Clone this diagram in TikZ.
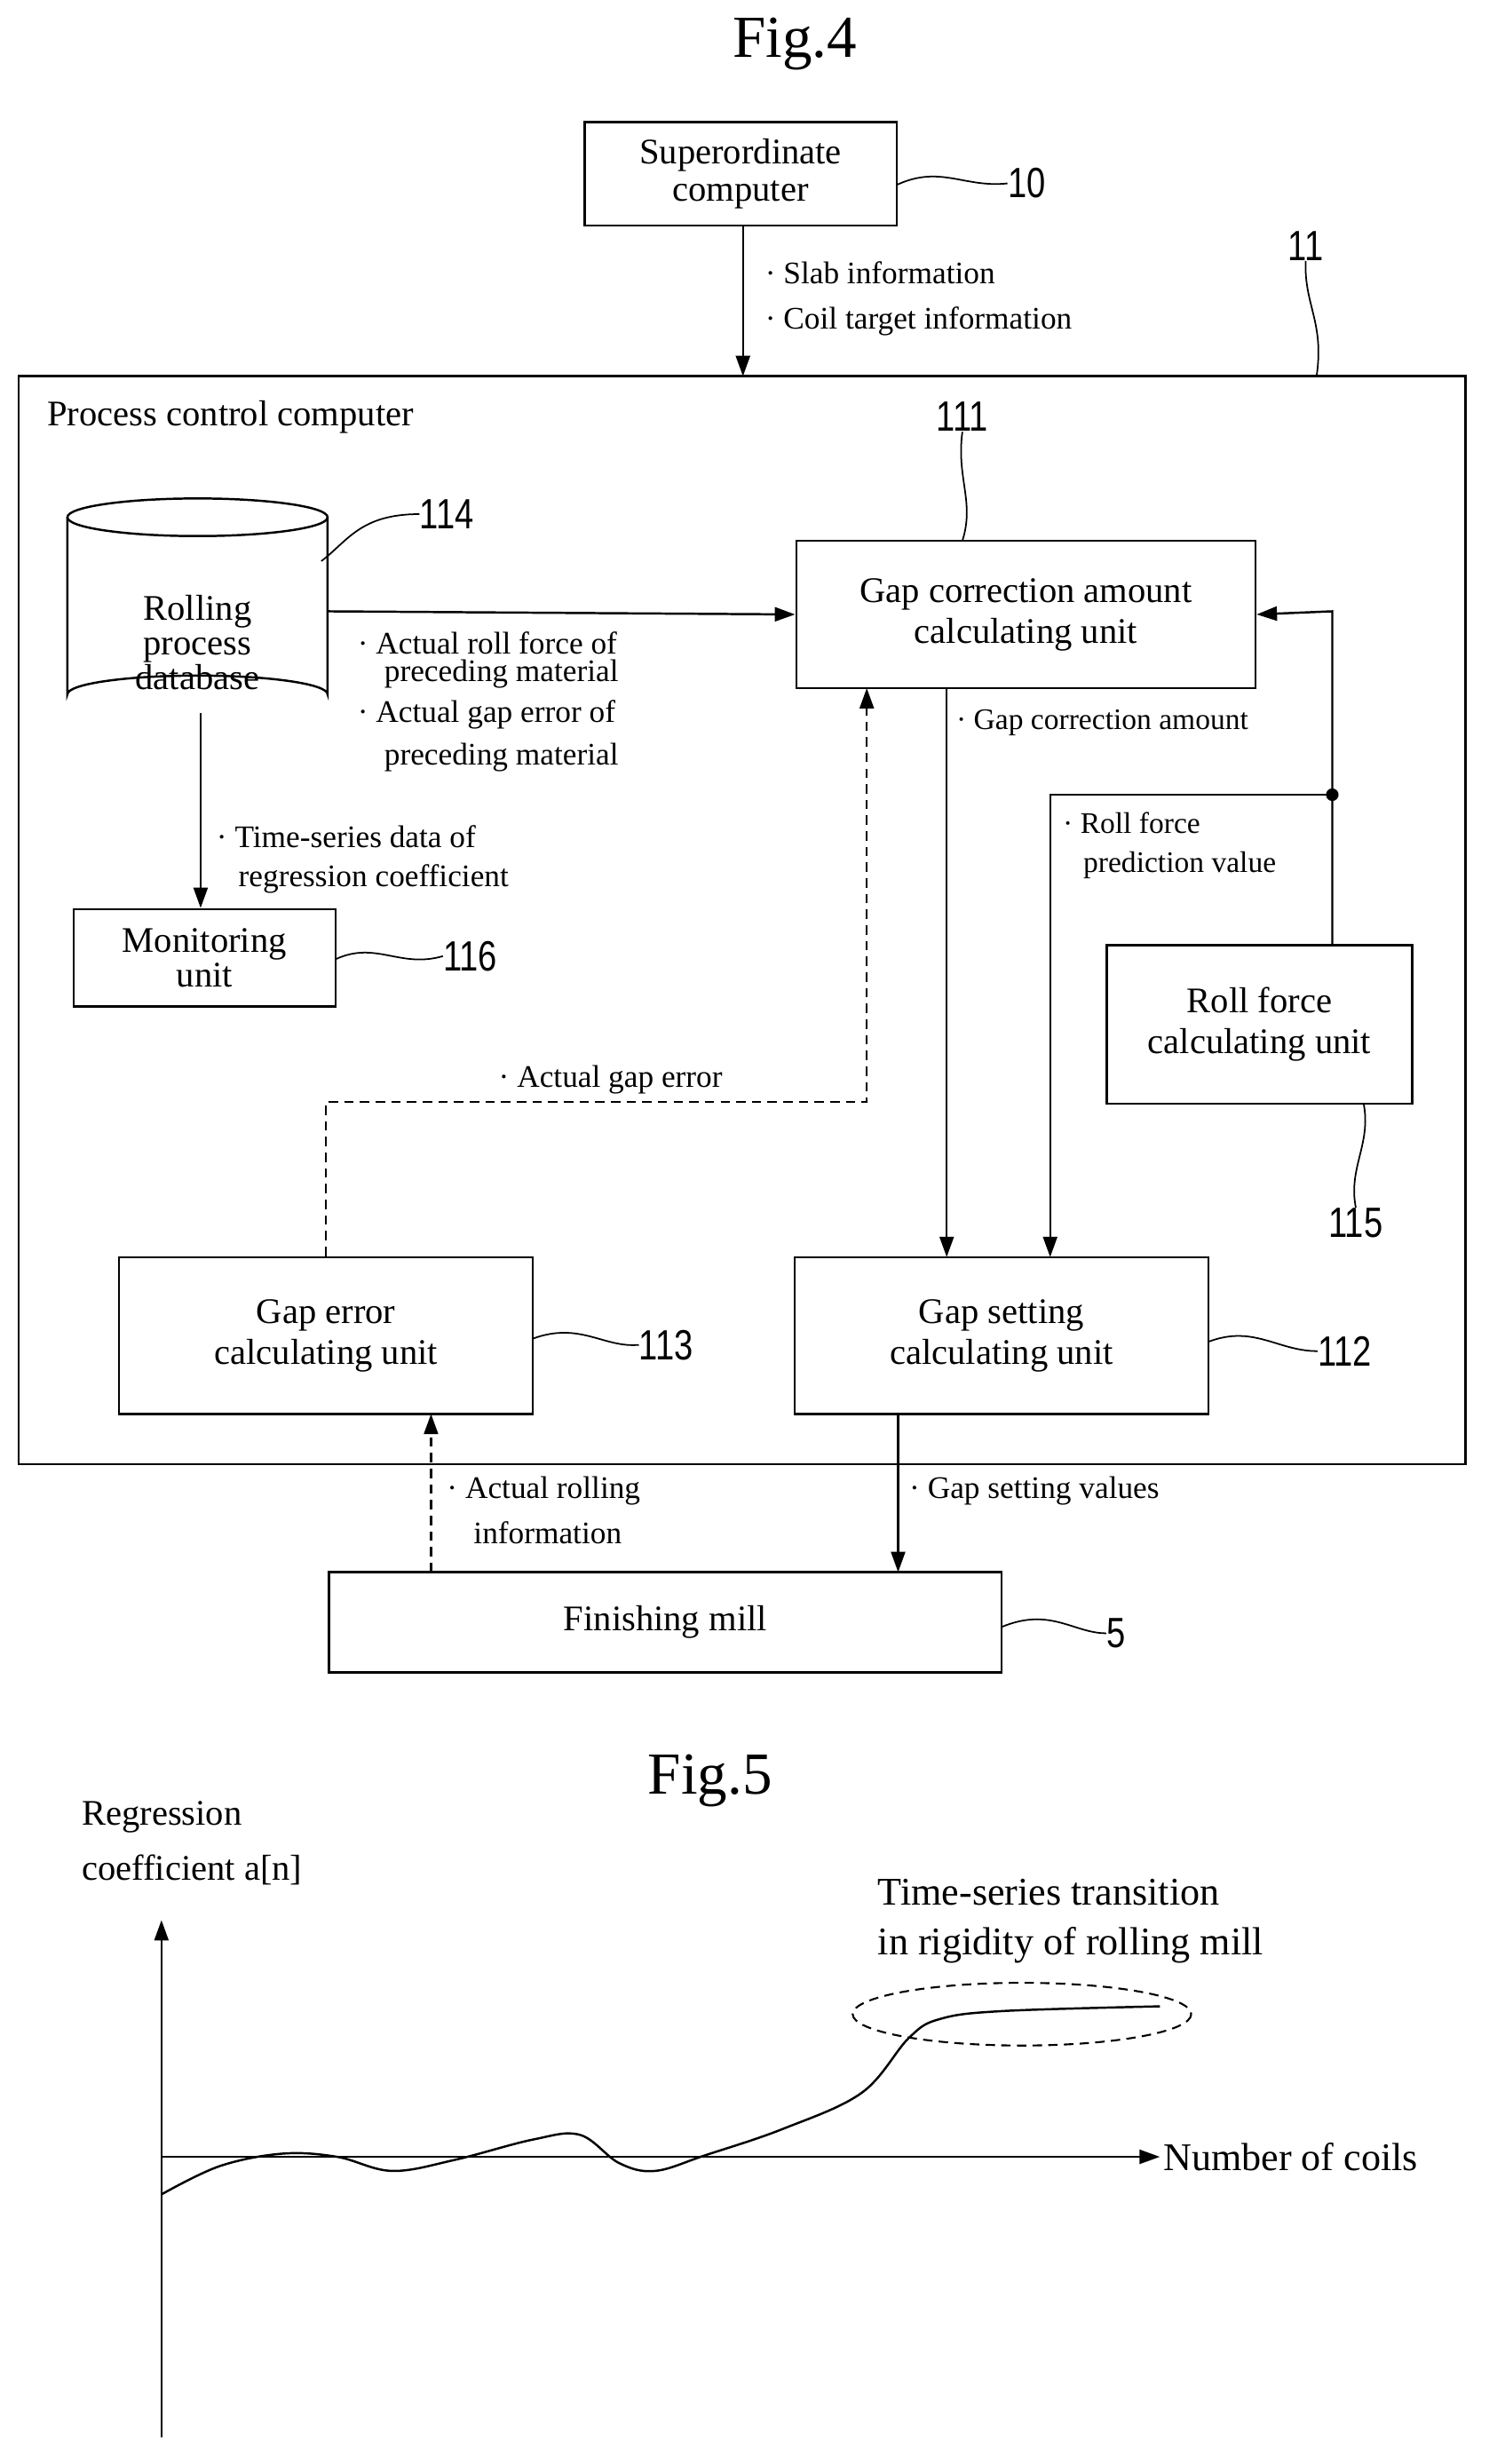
\documentclass[tikz,border=0pt]{standalone}
\usepackage{fontspec}
\setmainfont{Liberation Serif}
\newfontfamily\numfont{Liberation Sans}[FakeStretch=0.8]
\usetikzlibrary{arrows.meta,shapes.geometric}
\begin{document}
\begin{tikzpicture}[x=1pt,y=-1pt,
  box/.style={draw,line width=1.4pt,inner sep=0pt,align=center,font=\fontsize{23}{26}\selectfont},
  lab/.style={anchor=west,inner sep=0pt,font=\fontsize{20}{22}\selectfont},
  num/.style={inner sep=0pt,font=\numfont\fontsize{27}{28}\selectfont},
  arr/.style={line width=1.4pt,-{Triangle[length=13pt,width=9pt]}},
  sq/.style={line width=1pt},
  dsh/.style={dash pattern=on 6pt off 4pt}]
\useasboundingbox (0,0) rectangle (960,1572);
\node[font=\fontsize{38}{40}\selectfont] (f4) at (507,28) {Fig.4};
% boxes
\node[box,minimum width=199pt,minimum height=66pt] (sup) at (472.5,111) {Superordinate\\[-2pt]computer};
\draw[line width=1.4pt] (12,240) rectangle (935,934);
\coordinate (outer) at (840,240);
\node[lab,font=\fontsize{23}{26}\selectfont] (pcc) at (30,266) {Process control computer};
\node[box,minimum width=293pt,minimum height=94pt] (gca) at (654.5,392) {Gap correction amount\\calculating unit};
\node[box,minimum width=167pt,minimum height=62pt] (mon) at (130.5,611) {Monitoring\\[-4pt]unit};
\node[box,minimum width=195pt,minimum height=101pt] (rf) at (803.5,653.5) {Roll force\\calculating unit};
\node[box,minimum width=264pt,minimum height=100pt] (gs) at (639,852) {Gap setting\\calculating unit};
\node[box,minimum width=264pt,minimum height=100pt] (ge) at (208,852) {Gap error\\calculating unit};
\node[box,minimum width=429pt,minimum height=64pt] (fm) at (424.5,1035) {Finishing mill};
% cylinder
\draw[line width=1.4pt] (43,330) -- (43,443) arc[start angle=180,end angle=360,x radius=83,y radius=12] -- (209,330);
\draw[line width=1.4pt] (126,330) ellipse[x radius=83,y radius=12];
\node[box,draw=none] (db) at (126,410) {Rolling\\[-4pt]process\\[-4pt]database};
% numbers and squiggles
\node[num] (n10) at (655,117) {10};
\draw[sq] (572,118) .. controls (600,105) and (615,120) .. (n10.west);
\node[num] (n11) at (833,157) {11};
\draw[sq] (n11.south) .. controls (832,195) and (845,205) .. (outer);
\node[num] (n111) at (614,266) {111};
\draw[sq] (n111.south) .. controls (610,305) and (622,320) .. (614,345);
\node[num] (n114) at (285,328) {114};
\draw[sq] (205,358) .. controls (222,345) and (230,328) .. (n114.west);
\node[num] (n116) at (300,610) {116};
\draw[sq] (214,612) .. controls (240,600) and (255,618) .. (n116.west);
\node[num] (n115) at (865,780) {115};
\draw[sq] (870,704) .. controls (875,730) and (860,745) .. (n115.north);
\node[num] (n112) at (858,862) {112};
\draw[sq] (771,856) .. controls (800,845) and (815,862) .. (n112.west);
\node[num] (n113) at (425,858) {113};
\draw[sq] (340,854) .. controls (370,843) and (385,860) .. (n113.west);
\node[num] (n5) at (712,1042) {5};
\draw[sq] (639,1038) .. controls (670,1025) and (685,1042) .. (n5.west);
% arrows
\draw[arr] (474,144) -- (474,240);
\node[lab] at (488,174) {· Slab information};
\node[lab] at (488,205) {· Coil target information};
\draw[arr] (209,390) -- (gca.west);
\node[lab] at (228,410) {· Actual roll force of};
\node[lab] at (245,430) {preceding material};
\node[lab] at (228,456) {· Actual gap error of};
\node[lab] at (245,483) {preceding material};
\draw[arr] (128,455) -- (mon.north -| 128,0);
\node[lab] at (138,534) {· Time-series data of};
\node[lab] at (152,561) {regression coefficient};
\draw[arr] (604,439) -- (604,802);
\node[lab,font=\fontsize{19}{21}\selectfont] at (610,461) {· Gap correction amount};
\coordinate (dot) at (850,507);
\draw[arr] (rf.north -| 850,0) -- (850,390) -- (gca.east);
\fill (dot) circle (4pt);
\draw[arr] (dot) -- (670,507) -- (670,802);
\node[lab,font=\fontsize{19}{21}\selectfont] at (678,525) {· Roll force};
\node[lab,font=\fontsize{19}{21}\selectfont] at (691,552) {prediction value};
\draw[arr,dsh] (ge.north) -- (208,703) -- (553,703) -- (553,439);
\node[lab] at (318,689) {· Actual gap error};
\draw[arr,dsh] (275,1003) -- (275,902);
\node[lab] at (285,951) {· Actual rolling};
\node[lab] at (302,978) {information};
\draw[arr] (573,902) -- (573,1003);
\node[lab] at (580,951) {· Gap setting values};
% Fig.5
\node[font=\fontsize{38}{40}\selectfont] (f5) at (453,1136) {Fig.5};
\node[lab,font=\fontsize{23}{26}\selectfont] at (52,1159) {Regression};
\node[lab,font=\fontsize{23}{26}\selectfont] at (52,1193) {coefficient a[n]};
\node[lab,font=\fontsize{25}{28}\selectfont] at (560,1207) {Time-series transition};
\node[lab,font=\fontsize{25}{28}\selectfont] at (560,1241) {in rigidity of rolling mill};
\coordinate (o) at (103,1376);
\draw[arr] (103,1555) -- (103,1225);
\draw[arr] (o) -- (740,1376);
\node[lab,font=\fontsize{25}{28}\selectfont] at (742,1376) {Number of coils};
\draw[line width=1.4pt] plot[smooth,tension=0.6] coordinates {(103,1400) (140,1382) (180,1374) (215,1376) (250,1385) (290,1378) (340,1365) (370,1362) (395,1380) (418,1385) (450,1375) (500,1358) (550,1335) (580,1300) (600,1288) (640,1283) (740,1280)};
\draw[line width=1.2pt,dsh] (652,1285) ellipse[x radius=108,y radius=20];
\end{tikzpicture}
\end{document}
